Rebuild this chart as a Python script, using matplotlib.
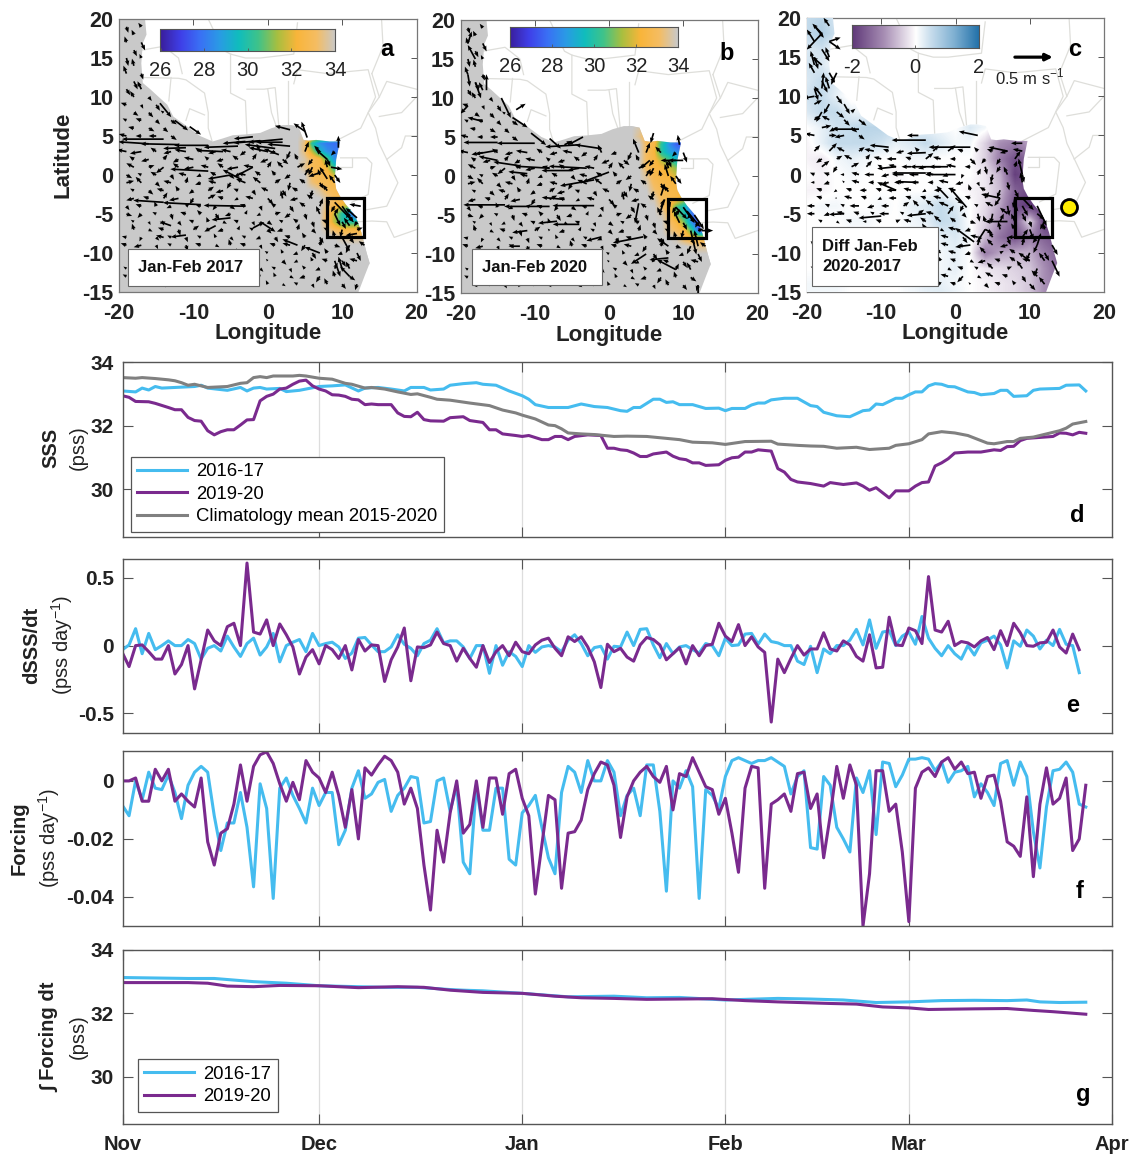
import numpy as np
import matplotlib
matplotlib.use('Agg')
import matplotlib.pyplot as plt
from matplotlib.colors import LinearSegmentedColormap
from matplotlib.patches import Polygon, Rectangle
from matplotlib.path import Path

plt.rcParams['font.family'] = ['Liberation Sans', 'DejaVu Sans']
plt.rcParams['mathtext.fontset'] = 'custom'
plt.rcParams['mathtext.rm'] = 'Liberation Sans'
plt.rcParams['mathtext.bf'] = 'Liberation Sans:bold'
plt.rcParams['axes.unicode_minus'] = False

W, H = 1131, 1155
C_BLUE = '#45bcef'
C_PURPLE = '#7a2a8e'
C_GRAY = '#808080'
C_AXIS = '#555555'

month_pos = [0, 30, 61, 92, 120, 151]
month_names = ['Nov', 'Dec', 'Jan', 'Feb', 'Mar', 'Apr']

sss_blue_days = [0,2,3,4,5,6,8,10,11,12,13,16,18,19,20,21,22,24,25,27,30,32,34,36,37,39,41,43,44,46,47,49,50,52,54,55,57,59,61,62,63,65,68,
                 70,72,74,76,77,78,79,81,82,83,84,85,87,89,91,92,93,95,96,97,98,99,101,103,105,106,107,109,111,113,114,115,116,118,119,120,121,122,123,124,125,126,127,129,130,131,133,134,135,136,138,139,140,143,144,146,147]
sss_blue = [33.09,33.06,33.18,33.12,33.23,33.18,33.2,33.22,33.23,33.27,33.18,33.11,33.2,33.09,33.18,33.2,33.15,33.17,33.07,33.11,33.23,33.25,33.28,33.09,33.18,33.2,33.15,33.09,33.2,33.2,33.12,33.15,33.27,33.32,33.35,33.3,33.27,33.09,32.94,32.83,32.66,32.57,32.57,
            32.68,32.6,32.57,32.47,32.45,32.57,32.57,32.83,32.83,32.73,32.75,32.66,32.66,32.54,32.55,32.47,32.54,32.54,32.65,32.71,32.71,32.81,32.86,32.86,32.63,32.6,32.42,32.31,32.28,32.47,32.49,32.68,32.66,32.86,32.86,32.97,33.06,33.06,33.25,33.32,33.3,33.23,33.22,33.06,33.04,32.97,33.01,33.11,33.11,32.92,32.94,33.11,33.15,33.17,33.27,33.28,33.09]
sss_purple_days = [0,1,2,4,5,7,8,9,10,11,12,13,14,15,16,17,18,19,20,21,22,23,24,25,26,27,28,29,30,31,32,33,34,35,36,37,38,39,40,41,42,43,44,45,46,47,49,50,52,53,55,56,57,58,60,61,62,64,65,66,67,68,
                   69,71,73,74,75,76,77,78,79,80,81,83,84,85,86,87,88,89,91,92,93,94,95,96,97,99,100,101,102,103,105,107,108,109,110,112,113,114,115,117,118,120,121,122,123,124,125,126,127,129,131,133,134,135,136,137,138,142,143,144,145,146,147]
sss_purple = [32.94,32.89,32.76,32.75,32.7,32.57,32.5,32.5,32.26,32.16,32.14,31.84,31.71,31.81,31.87,31.87,32.02,32.18,32.19,32.78,32.92,32.99,33.15,33.18,33.3,33.4,33.43,33.25,33.15,33.09,32.97,32.96,32.92,32.83,32.81,32.66,32.68,32.66,32.66,32.66,32.4,32.29,32.28,32.42,32.19,32.15,32.14,32.25,32.28,32.16,32.1,31.87,31.87,31.74,31.69,31.66,31.69,31.56,31.56,31.66,31.66,31.56,
              31.66,31.71,31.69,31.29,31.29,31.24,31.22,31.14,31.03,31.03,31.11,31.17,31.04,30.96,30.93,30.83,30.83,30.75,30.77,30.91,30.99,31.01,31.17,31.17,31.24,31.2,30.65,30.54,30.31,30.23,30.18,30.1,30.21,30.18,30.15,30.2,30.1,29.97,30.05,29.73,29.95,29.95,30.1,30.21,30.23,30.73,30.83,30.96,31.14,31.17,31.17,31.24,31.22,31.34,31.35,31.53,31.6,31.66,31.77,31.76,31.71,31.79,31.76]
sss_clim_days = [0,2,3,5,7,8,9,10,11,12,13,16,18,19,20,21,22,23,26,27,28,30,32,34,35,37,38,40,42,44,45,47,48,50,53,56,58,60,61,63,65,66,67,68,
                 70,72,75,77,80,83,85,87,90,92,95,99,100,103,105,107,109,112,114,117,118,120,122,123,125,127,129,131,132,133,135,136,137,139,141,143,144,145,147]
sss_clim = [33.51,33.49,33.51,33.48,33.44,33.41,33.35,33.27,33.3,33.25,33.2,33.23,33.33,33.35,33.51,33.54,33.51,33.56,33.56,33.58,33.56,33.49,33.46,33.33,33.3,33.18,33.2,33.15,33.06,32.98,33.0,32.89,32.83,32.8,32.71,32.63,32.49,32.4,32.33,32.21,32.02,32.0,31.9,31.77,
            31.74,31.72,31.66,31.67,31.66,31.6,31.56,31.48,31.46,31.41,31.5,31.51,31.42,31.38,31.36,31.35,31.29,31.32,31.25,31.29,31.38,31.43,31.56,31.74,31.81,31.77,31.69,31.53,31.45,31.43,31.5,31.5,31.6,31.64,31.74,31.84,31.92,32.05,32.13]

# panel e, daily
dsss_blue = [-0.03,0.005,0.125,-0.06,0.09,-0.03,0,0.035,0,0,0.045,0.015,-0.10,-0.02,0,-0.04,0.07,-0.01,-0.08,0.015,0.055,-0.07,-0.01,0.09,-0.12,0,0.025,0.045,-0.045,0.09,0,0.015,0.025,-0.01,-0.095,-0.055,0.055,0.06,0.005,-0.045,-0.045,-0.01,0.08,0.01,-0.02,-0.075,0.015,0.04,0.125,0.02,0.035,0.035,-0.01,-0.095,0,0,-0.205,0,-0.145,-0.045,-0.08,-0.155,0,-0.05,-0.01,0,-0.01,-0.045,
             0.04,0.08,0.015,-0.075,-0.015,-0.005,-0.10,-0.005,-0.01,0.10,0,0.12,0.125,0.005,-0.09,0.015,-0.06,-0.01,0,-0.03,-0.055,0.015,0,-0.075,0.055,0,0.005,0.085,0.09,0.01,0.085,0.03,0.02,0,0,-0.115,-0.14,-0.005,-0.20,-0.025,-0.06,0,0,0.04,0.12,0.005,0.19,-0.02,0.10,0.11,0,0.07,0.10,0.01,0.215,0.055,-0.02,-0.075,0,-0.06,-0.10,0,-0.07,0.02,0.04,0.07,0.005,-0.165,0.035,-0.005,0.115,0.07,-0.025,0.04,0,0.12,0.01,0,-0.20]
dsss_purple = [-0.055,-0.155,0,0.005,-0.045,-0.10,-0.10,0,-0.21,-0.14,0,-0.32,-0.105,0.115,0.035,0,0.14,0.165,0,0.61,0.10,0.085,0.19,0,0.16,0.08,-0.01,-0.21,-0.085,-0.03,-0.135,0,-0.03,-0.095,0,-0.18,0.045,-0.04,0.005,0,-0.265,-0.105,-0.01,0.13,-0.26,-0.01,-0.015,0.005,0.10,0.015,0,-0.115,-0.02,-0.095,-0.16,0,-0.125,-0.045,0,-0.075,0.025,-0.045,-0.06,0.005,0.04,0.055,-0.02,-0.075,
               0.065,0.03,0.065,-0.01,-0.12,-0.31,0.01,-0.045,-0.02,-0.085,-0.115,0.005,0.06,0.045,0.005,-0.105,-0.06,-0.015,-0.135,0,-0.075,0,0.01,0.165,0.07,0.03,0.155,0,0.065,-0.01,-0.05,-0.565,-0.10,-0.20,-0.095,0,-0.07,-0.025,-0.025,0.095,-0.025,-0.04,0.035,0.005,-0.08,-0.115,0.08,-0.165,-0.16,0.21,0.005,0,0.13,0.11,0.015,0.51,0.115,0.10,0.18,0,0.03,0.02,-0.01,0.035,0.06,-0.03,0.11,0,0.165,0.095,0,-0.005,0.02,0.025,0.115,-0.01,-0.055,0.085,-0.03]

# panel f, daily
forcing_blue = [-0.0085,-0.012,0,-0.0065,0.003,-0.0025,-0.003,0.002,-0.004,-0.013,-0.0015,0.003,0.005,0.003,-0.012,-0.024,-0.0145,-0.0145,-0.004,-0.016,-0.0365,-0.001,-0.0095,-0.0405,-0.0025,0.001,-0.005,-0.0095,-0.0145,-0.0025,-0.0085,-0.004,-0.004,-0.022,-0.017,-0.0025,0.0035,-0.006,-0.0045,-0.0005,0.0005,-0.0105,-0.005,-0.0025,0.0015,0.001,-0.0145,-0.014,0,0.001,-0.0105,-0.0015,-0.028,-0.032,-0.0015,-0.017,-0.017,-0.0025,-0.0025,-0.027,-0.029,-0.011,-0.0085,-0.005,-0.016,-0.0265,-0.032,-0.004,
                0.005,0.003,-0.004,0.007,0,0,0.007,0.003,-0.012,-0.005,-0.0025,-0.012,0.0055,0.0055,-0.0105,-0.038,0,-0.0025,0.0035,-0.002,-0.0405,-0.003,-0.005,-0.0095,0.0015,0.007,0.008,0.007,0.006,0.007,0.007,0.008,0.0065,0.005,-0.0045,0.0015,0.0035,-0.023,-0.0235,0.0015,-0.0015,-0.016,-0.020,-0.0245,0.001,-0.004,0.0035,-0.0185,0.0065,0.006,-0.002,0.002,0.0075,0.0075,0.008,0.0075,0.0035,0.0065,-0.0005,0.003,0.0035,0.005,-0.0055,-0.001,-0.004,-0.0085,0.006,0.007,-0.0015,0.0065,0.0015,-0.0175,-0.030,-0.009,0.0035,0.004,0.0065,0.003,-0.008,-0.009]
forcing_purple = [0,0,0.001,-0.007,-0.007,0.004,0,0.004,-0.007,-0.0045,-0.007,-0.009,0.001,-0.021,-0.029,-0.018,-0.0165,-0.008,0.0055,-0.007,0.005,0.009,0.010,0.006,-0.001,-0.007,-0.0005,-0.0065,0.007,0.003,0.001,-0.004,0.003,-0.005,-0.016,-0.003,-0.020,0.0045,0.002,0.0055,0.0085,0.007,0.003,-0.008,-0.0025,-0.0095,-0.029,-0.0445,-0.017,-0.028,-0.011,0,-0.018,-0.015,0,-0.016,0.001,0.001,-0.0115,0.0025,0.004,-0.006,-0.012,-0.039,-0.022,-0.005,-0.0065,-0.037,
                  -0.018,-0.0175,-0.0135,-0.003,0.0025,0.0065,0.0055,-0.0015,-0.0195,-0.0055,0,0.003,0.005,0.0015,-0.0005,0.005,-0.010,0.0025,0.0015,0.008,0.003,-0.002,-0.003,-0.0115,-0.006,-0.018,-0.0315,-0.0025,0.005,0.0045,-0.037,-0.008,-0.0065,-0.0045,-0.0105,0.0025,0.003,-0.0095,-0.0045,-0.0265,-0.012,0.005,-0.006,0.0055,-0.0015,-0.050,-0.032,0.0035,0.0035,-0.0105,-0.008,-0.0245,-0.0485,-0.0025,0.003,0.0045,0.0015,0.0065,0.008,0.004,0.0065,0.0025,0.003,-0.006,0.0015,0.002,-0.007,-0.021,-0.0225,-0.026,-0.0055,-0.033,-0.008,0.0045,-0.008,-0.006,0.001,-0.024,-0.020,-0.0015]

# panel g
int_blue_days = [0,10,14,20,25,30,40,45,50,52,55,61,68,75,80,85,92,100,105,110,115,120,125,130,135,138,140,143,147]
int_blue = [33.13,33.1,33.1,33.0,32.95,32.87,32.82,32.82,32.75,32.73,32.71,32.63,32.52,32.54,32.49,32.5,32.42,32.47,32.45,32.42,32.34,32.36,32.4,32.41,32.4,32.42,32.36,32.34,32.35]
int_purple_days = [0,10,13,16,20,24,30,36,42,46,50,55,61,66,70,75,80,90,95,100,108,112,116,120,123,130,135,139,142,147]
int_purple = [32.97,32.97,32.95,32.86,32.84,32.88,32.87,32.81,32.84,32.82,32.73,32.66,32.63,32.54,32.49,32.47,32.44,32.46,32.4,32.36,32.31,32.29,32.2,32.17,32.12,32.14,32.15,32.09,32.05,31.97]

# ocean edge of the maps, lon / lat
coast_lon = [-16.5,-16.3,-16.8,-17,-16.8,-15.8,-15,-13.5,-12.7,-10.8,-9.1,-7.4,-6,-4.7,-3,-1,0.5,2,3,4.1,4.8,5.5,6.5,8.3,9.7,9.2,9,9.2,9.7,10.5,11.5,12.1,12.6,13.3,13.7,13,12.2,-20,-20]
coast_lat = [20,18,16.9,14.3,11.8,11,10.3,9,7.5,6.2,5,4.3,4.7,5.1,5.2,5.4,6,6.4,6.4,6.2,4.5,4.4,4.5,4.3,4.3,2,-0.6,-1.8,-2.7,-3.8,-4.9,-6,-7.4,-10,-11.3,-13,-15,-15,20]

borders = [
    [(-16.8,12.5),(-12,12.4),(-11,12.2),(-8.5,10.5),(-8,8),(-8,6),(-7.5,4.4)],
    [(-13,12.5),(-13.3,9.5)],
    [(-11,7),(-10.5,8.5),(-8.5,7.7)],
    [(-17,16),(-14,16.5),(-12,15),(-11.5,13)],
    [(-8,20),(-6,16),(-5,15.5),(-3,15),(-1,15),(3.5,15.5),(4,19.5)],
    [(-5,15.5),(-5,10.5),(-3,9.5),(-2.8,5.1)],
    [(-2.8,11),(-0.5,11),(1,11.2),(1.5,6.2)],
    [(0,11),(0.5,8),(1.2,6.1)],
    [(2.7,12),(2.7,6.4)],
    [(3.5,11.7),(4,13.5),(8,13),(13.5,13.5),(14.5,10),(12.5,6),(9,4.3)],
    [(14,13),(15,10),(13.5,8),(14.5,6),(15,4),(16,2)],
    [(15.3,20),(15.5,16.5),(14,13)],
    [(9.8,2.2),(13.3,2.2),(14,1.5),(13.5,-2.5),(11.3,-3.5)],
    [(9.7,1),(11.3,1),(11.3,2.2)],
    [(16,2),(18,3.5),(18.5,5),(20,5)],
    [(16,2),(17.5,-1),(16,-4),(13,-4.5)],
    [(12,-6),(14,-5.9),(16,-6),(17,-8),(20,-7)],
    [(20,10),(18,8),(15,7.5)],
    [(20,11),(16,12),(15,10)],
]

# SSS near the Congo mouth, 1 deg, lat 7 to -11, lon 3 to 14 (34 everywhere else)
sss_lon = [3,4,5,6,7,8,9,10,11,12,13,14]
sss_lat = [7,6,5,4,3,2,1,0,-1,-2,-3,-4,-5,-6,-7,-8,-9,-10,-11]
sss_a = [
    [34,34,34,34,34,34,34,34,34,34,34,34],
    [34,34,33.9,33.3,34,34,34,34,34,34,34,34],
    [34,34,33.8,33,32.5,32,31,30,30,30,34,34],
    [34,34,33.3,30,28.5,28,27.8,28,28,28,28,34],
    [34,34,33.3,31.5,29.5,28.5,28,28,28.2,28,28,34],
    [34,34,33.7,33,32.5,30.5,28.5,28.5,28.5,28,28,34],
    [34,34,33.5,32.8,32.7,32,30,30,30,29,29,34],
    [34,34,34,33,32.8,32.7,31.5,31.5,30.5,30,30,34],
    [34,34,34,33.3,32.9,32.8,32.5,32.3,31.5,31,31,34],
    [34,34,34,34,33.6,33,32.8,32.6,32.3,32,32,34],
    [34,34,34,34,34,33.5,33,32.8,32.6,32.5,32.5,34],
    [34,34,34,34,34,33.3,32.6,32,31,30,30,34],
    [34,34,34,34,34,33,31.5,30,28.5,27,27,34],
    [34,34,34,34,34,33,31.5,30,30,30,30,34],
    [34,34,34,34,34,33.7,33,32.5,32.5,32.5,32,34],
    [34,34,34,34,34,34,34,33.7,33.5,33.5,33.5,34],
    [34,34,34,34,34,34,34,34,34,34,34,34],
    [34,34,34,34,34,34,34,34,34,34,34,34],
    [34,34,34,34,34,34,34,34,34,34,34,34],
]
sss_b = [
    [34,34,34,34,34,34,34,34,34,34,34,34],
    [34,33.7,33,33,33,34,34,34,34,34,34,34],
    [34,33.5,32.8,32.8,31,30,29,28,28,28,34,34],
    [34,34,33,32.5,30,28.5,27.5,27.5,27,27,27,34],
    [34,34,33,32.3,30,29,28.5,28,27.5,27.5,27.5,34],
    [34,34,33,32.5,31.5,30.5,29.5,28.5,28,28,28,34],
    [34,34,33,32.5,32.3,31.8,31,30,29,28.5,28.5,34],
    [34,34,33.5,32.7,32.5,32.2,31.7,30.5,30,29.5,29.5,34],
    [34,34,33.8,33,32.6,32.5,32.3,31.5,30.5,30,30,34],
    [34,34,34,33.3,32.8,32.6,32.5,32,31,30.5,30.5,34],
    [34,34,34,33.8,33,32.7,32.5,31.5,30,29.5,29.5,34],
    [34,34,34,34,33.3,32.7,30.5,29.5,28,27,27,34],
    [34,34,34,34,33.8,33,31,30,28,27,27,34],
    [34,34,34,34,34,33.3,32.5,31,28.5,27,27,34],
    [34,34,34,34,34,33.5,33,32.5,30.5,27.5,27.5,34],
    [34,34,34,34,34,34,33.8,33,32.5,32.5,32.5,34],
    [34,34,34,34,34,34,34,34,33.8,33.5,33.5,34],
    [34,34,34,34,34,34,34,34,34,34,34,34],
    [34,34,34,34,34,34,34,34,34,34,34,34],
]

# SSS difference 2020-2017, 2 deg, lat 20 to -16, lon -20 to 14
diff_lon = [-20,-18,-16,-14,-12,-10,-8,-6,-4,-2,0,2,4,6,8,10,12,14]
diff_lat = [20,18,16,14,12,10,8,6,4,2,0,-2,-4,-6,-8,-10,-12,-14,-16]
diff_c = [
    [0.5,0.6,0.3,0,0,0,0,0,0,0,0,0,0,0,0,0,0,0],
    [0.5,0.7,0.4,0,0,0,0,0,0,0,0,0,0,0,0,0,0,0],
    [0.3,0.4,0.1,0,0,0,0,0,0,0,0,0,0,0,0,0,0,0],
    [0.4,0.3,0,0,0,0,0,0,0,0,0,0,0,0,0,0,0,0],
    [0.3,0.5,0.3,0,0,0,0,0,0,0,0,0,0,0,0,0,0,0],
    [0.4,0.5,0.2,-0.1,0,0,0,0,0,0,0,0,0,0,0,0,0,0],
    [0.3,0.5,0.5,0.2,0.1,0,0,0,0,0,0,0,0,0,0,0,0,0],
    [0,0.2,0.4,0.5,0.6,0.6,0.5,0.4,0.2,0.1,0,0.3,0.1,-0.4,-0.8,-0.8,0,0],
    [-0.1,0.2,0.5,0.5,0.5,0.4,0.2,0.3,0.5,0.3,0.1,0.1,-0.4,-1,-1.2,-0.8,0,0],
    [-0.1,-0.2,0.1,0.2,0.1,0,0,0.1,0.1,0,0,0,-0.4,-1.2,-1.7,-1.4,0,0],
    [0,-0.1,0,0.1,0,0,-0.1,0,0,0,0,0,-0.2,-0.7,-1.9,-1.6,0,0],
    [-0.1,-0.1,0,0,0,0,0,0,0,0.1,0,-0.1,-0.2,-0.6,-1.5,-1.8,-1,0],
    [0,0.1,0.1,0,0,0.1,0,0.2,0.3,0.5,0.3,0,-0.3,-0.8,-1.7,-2,-1.9,0],
    [0,0,0,0.1,0.1,0,0,0.1,0.2,0.5,0.4,0,-0.4,-1,-1.5,-0.3,-2,-1.8],
    [0,0,0,0,0,0,0,0.1,0.1,0.2,0.3,0.1,-0.6,-1.3,-1.7,-1.2,-1.5,-1.8],
    [0,0,0,0,0,0,0,0,0.1,0.1,0.2,0,-1.2,-0.8,-0.7,-0.7,-1.2,-1.5],
    [0,0,0,0,0,0,0,0,0,0.1,0.2,0,-0.2,-0.3,-0.4,-0.5,-1,-1.5],
    [0.1,0.1,0.1,0,0,0,0,0.1,0.2,0.2,0.1,0,-0.1,-0.2,-0.3,-0.5,-1,-1.2],
    [0.1,0.1,0.1,0,0,0,0,0.1,0.2,0.3,0.2,0,-0.1,-0.2,-0.3,-0.5,-1,-1.2],
]

# background currents in cm/s: north block lon -19..-13, lat 19..5; south block lon -19..13, lat 3..-15
north_lon = [-19,-17,-15,-13]
north_lat = [19,17,15,13,11,9,7,5]
south_lon = [-19,-17,-15,-13,-11,-9,-7,-5,-3,-1,1,3,5,7,9,11,13]
south_lat = [3,1,-1,-3,-5,-7,-9,-11,-13,-15]
north_u_ab = [[5,-8,5,0],[-5,10,0,0],[5,-5,0,0],[-8,5,0,0],[10,-10,5,0],[-15,5,10,10],[-10,-15,10,15],[-20,-15,-20,15]]
north_v_ab = [[-15,10,0,0],[15,-20,0,0],[-20,10,0,0],[20,-15,0,0],[-15,20,-15,0],[5,-10,-15,-10],[5,5,-10,-10],[5,0,0,-10]]
south_u_ab = [
    [-25,-30,-15,-20,-30,-15,-20,-25,-15,-10,-15,-10,10,-15,-10,-20,0],
    [-20,15,-20,-15,-25,-20,-15,-30,-25,10,-15,20,-10,-5,20,-10,0],
    [20,-15,10,-20,5,-15,-20,-10,-25,-20,15,-5,-15,10,-15,-10,0],
    [-20,-15,10,-25,-10,20,-15,-10,-20,15,-5,-20,-15,5,15,-25,0],
    [15,-10,-10,5,-15,-10,10,-15,5,-10,15,-15,5,-10,10,-10,-20],
    [-5,10,-15,5,15,-5,-15,5,-10,10,-15,5,10,-10,-5,15,-10],
    [-15,-20,5,-10,5,-15,10,-5,-15,5,-15,-20,-10,5,15,-10,-15],
    [5,-5,-10,10,-5,5,-10,5,-15,-5,10,-10,-5,-15,10,-20,-5],
    [-10,5,-5,-5,10,-10,5,-10,5,-10,-5,10,-15,-10,-5,15,-10],
    [10,-15,5,-5,-10,5,-10,5,-5,10,-5,-5,10,-10,5,-5,0],
]
south_v_ab = [
    [5,-5,10,-5,5,10,-5,5,-10,20,-5,-20,25,15,-10,5,0],
    [10,5,-15,10,-5,5,10,-5,5,15,15,10,-20,20,-5,15,0],
    [5,15,-10,5,15,-5,5,-15,10,15,10,-20,10,-15,20,5,0],
    [-5,5,15,-5,-15,10,5,-5,5,-15,20,-5,10,-20,-15,5,0],
    [-5,-10,5,-15,5,10,-15,-5,10,-5,5,-10,-15,20,15,-10,5],
    [15,-5,5,-15,10,5,-5,10,5,-10,-5,15,-10,5,-20,5,-15],
    [5,-5,-10,5,-15,5,-5,15,5,-10,5,5,-15,15,-5,-20,10],
    [-10,5,5,-5,5,-10,5,-5,-10,5,-10,-5,10,5,-15,5,20],
    [5,-10,5,10,-5,5,-5,5,-10,5,10,-5,-5,-15,15,-10,-15],
    [-5,5,-5,10,5,-5,5,-5,10,-5,5,10,-5,5,-10,15,0],
]
north_u_c = [[25,-15,10,0],[-20,30,0,0],[10,-10,0,0],[-15,15,0,0],[10,-10,10,0],[20,-15,15,10],[15,-20,15,20],[-25,20,-25,15]]
north_v_c = [[-30,20,0,0],[30,-20,0,0],[-30,25,0,0],[25,-25,0,0],[-30,30,-20,0],[10,-25,-25,-15],[10,10,-15,-15],[5,0,-5,-10]]
south_u_c = [
    [15,20,-20,15,-25,-15,-20,-10,15,20,-15,-10,-15,-20,-25,-10,0],
    [20,-10,20,15,-10,-20,-25,-20,-30,-25,-15,5,-10,5,-5,-5,0],
    [-10,-15,-5,-20,-15,-20,-25,-20,-15,-25,-20,5,-10,5,-5,10,0],
    [-15,-5,-20,-15,-10,-20,-15,-15,-20,20,-15,10,-15,-5,15,-15,0],
    [-20,-15,-20,-15,-10,-25,-10,15,-20,15,10,5,-5,-20,10,20,-10],
    [10,-15,5,-15,10,-15,5,-10,10,-20,-15,20,-5,-10,10,-5,10],
    [-10,5,-15,10,-10,-5,-15,-5,10,-20,-15,5,-15,-20,5,-10,15],
    [5,-10,-5,10,-5,-15,5,-15,-5,-15,10,-20,-15,-15,-20,-15,15],
    [-5,-10,-15,5,-10,5,10,-15,-10,-20,-15,10,-20,-15,10,-15,10],
    [-15,10,-10,5,-15,-10,10,-5,-15,-10,15,-5,-15,20,-10,-15,0],
]
south_v_c = [
    [15,20,10,10,5,5,-5,10,15,15,5,10,5,-5,5,-15,0],
    [15,-15,10,15,5,5,0,-5,0,5,0,-20,-15,15,-20,20,0],
    [0,-5,5,5,0,-5,0,0,0,5,-5,-10,-5,-20,25,-5,0],
    [5,0,5,5,-5,0,5,5,5,-15,5,15,-20,-25,-20,10,0],
    [0,-5,5,5,5,0,5,10,5,20,-10,-20,-25,15,-20,-15,0],
    [5,5,-5,0,5,-5,5,15,-5,5,-5,-10,20,15,-25,15,-5],
    [10,-5,5,-5,10,5,5,5,15,5,-5,20,15,-5,20,-20,-25],
    [-5,5,10,5,5,0,5,5,10,5,-5,-5,5,10,5,20,-20],
    [5,5,0,5,10,-5,-5,5,5,5,-15,-5,10,5,-15,15,-15],
    [5,-5,5,-5,5,5,-5,10,5,5,-5,-10,5,-10,20,5,0],
]

# second set of cells between the first: lon -18..-14, lat 18..6; lon -18..14, lat 2..-14
north2_lon = [-18,-16,-14]
north2_lat = [18,16,14,12,10,8,6]
south2_lon = [-18,-16,-14,-12,-10,-8,-6,-4,-2,0,2,4,6,8,10,12,14]
south2_lat = [2,0,-2,-4,-6,-8,-10,-12,-14]
north2_u_ab = [[-6,0,0],[8,0,0],[-5,0,0],[10,0,0],[-10,8,0],[12,12,-8],[-15,15,12]]
north2_v_ab = [[12,0,0],[-15,0,0],[18,0,0],[-20,0,0],[15,-10,0],[-8,-12,5],[3,-8,-10]]
south2_u_ab = [
    [-12,-20,10,-15,-25,-10,-18,-15,10,-20,15,-8,-12,8,-15,0,0],
    [15,-10,-15,8,-20,-12,-15,10,-20,-15,-10,-15,12,-5,15,0,0],
    [-10,12,-18,-8,-12,15,-20,-12,8,-18,10,-15,-5,-12,10,-10,0],
    [8,-15,-5,-12,10,-15,-8,12,-15,5,-12,10,-15,8,-10,15,0],
    [-8,5,-10,8,-12,-5,10,-12,5,12,-10,-12,5,-15,10,-8,0],
    [-12,-5,8,-10,5,-10,-5,8,-10,-12,8,-15,-8,10,-5,12,0],
    [5,-10,-5,8,-8,5,-10,-5,10,-8,-5,-12,10,-8,-12,10,-15],
    [-8,5,-10,-5,5,-8,5,-10,-5,8,-10,5,-8,-12,8,-10,0],
    [6,-8,5,-5,-8,5,-5,8,-8,-5,8,-10,5,-8,10,-5,0],
]
south2_v_ab = [
    [8,-5,12,-8,5,8,-5,10,15,-8,-12,15,-15,-18,10,0,0],
    [-8,5,8,-12,5,-5,8,-10,5,10,12,-10,18,15,-20,0,0],
    [5,-10,5,12,-8,10,-5,5,-12,8,-15,8,-18,15,12,-15,0],
    [-10,5,12,-5,8,5,-10,-8,5,-12,8,-15,10,20,-15,-10,0],
    [5,-8,-5,-10,5,12,-5,5,-10,-8,5,8,-15,5,-18,-12,0],
    [3,-10,-8,5,-12,5,10,-8,5,-5,-12,5,12,-15,18,-15,0],
    [-8,5,10,-5,5,-8,5,12,-5,5,10,-5,-15,12,-5,-20,15],
    [5,-5,5,8,-10,5,-8,5,8,-8,5,-10,8,-5,15,18,0],
    [-5,5,-8,-5,5,-5,10,-5,5,10,-5,5,-10,15,-12,-15,0],
]
north2_u_c = [[-25,0,0],[20,0,0],[-25,0,0],[15,0,0],[-20,15,0],[-15,20,10],[25,-20,15]]
north2_v_c = [[25,0,0],[-30,0,0],[20,0,0],[-30,0,0],[25,-20,0],[-25,-15,8],[5,-10,-12]]
south2_u_c = [
    [-15,15,-20,10,-20,-25,-15,20,-20,-15,15,-10,-10,15,-12,0,0],
    [-12,-15,-10,-20,-25,-20,-30,-25,-20,-15,-5,8,-5,-10,5,0,0],
    [-15,-8,-15,-18,-15,-25,-20,-10,-18,-20,-5,-15,-8,10,-5,15,0],
    [-20,-12,-10,-25,-18,-20,15,-15,-20,-25,-8,-10,-20,5,15,-10,0],
    [-10,8,-15,-10,-15,12,-20,-15,-18,-15,15,-5,10,-10,5,-12,0],
    [5,-12,10,-8,-15,-10,-5,8,-15,-20,12,-20,-10,8,15,-12,0],
    [-8,10,-5,-12,5,-10,-15,-8,-15,-20,-15,-15,10,-15,-10,12,15],
    [-10,-5,8,-12,-10,5,-15,-10,-5,10,-15,-10,-15,12,-15,-8,0],
    [8,-12,-5,8,-15,-5,-8,12,-10,-15,-5,10,-15,-8,15,-15,0],
]
south2_v_c = [
    [-10,8,10,12,5,0,5,15,5,0,-15,-12,-15,20,-20,0,0],
    [5,5,0,5,0,-5,0,0,5,-5,-10,15,-20,20,-20,0,0],
    [5,-5,5,0,5,0,5,-5,0,5,15,8,-20,-20,25,10,0],
    [0,5,5,0,-5,0,10,15,15,10,-15,5,10,-25,-25,15,0],
    [5,-5,5,0,5,5,5,10,15,10,-5,15,20,20,-15,-20,0],
    [5,5,-5,5,0,5,8,-5,5,5,-15,5,15,-20,20,-15,0],
    [-5,5,5,-5,5,0,0,5,10,5,-5,15,5,10,-20,-20,-25],
    [5,5,-5,5,5,5,5,5,8,-5,5,5,15,5,20,-20,0],
    [-5,5,5,-5,5,-5,5,-5,8,5,5,-10,5,10,-15,18,0],
]

# the long streaks, cm/s
streak_a_lon = [-14,-16,-12,-8,-4,-11,-6,-1,2,1,3,0,2,-2,1.5,-3,-14.5,-12.5,-10.5,-8,-5,-3.5,-2,-14,-9,-3,-5,-7,-13,-1,-11,5,3,5.3,8,9.5,7,8,8.5,9,10,12,11,9,12,13,12.5,4,7,9,11,10,10,-2,-14]
streak_a_lat = [4.6,4,3.9,3.8,3.7,3.5,3,4.4,4.6,3.4,3.7,3,4.2,4.9,2.6,4.3,9.2,7,6.2,0.5,0,-0.6,1,-3.5,-3.8,-4,-5.5,-6.5,-6.5,-6,-7.7,5.6,5.8,4.8,2,3.5,0.3,-0.5,1,-3.5,-4,-5.5,-6.5,-5,-7.5,-8,-4,-9,-10,-11,-13,-8,-12,-6.8,-8]
streak_a_u = [-110,-80,-100,-90,-90,-60,-70,-70,-90,-80,-60,-50,-70,-50,-40,-60,30,35,30,-100,-60,-50,-50,-80,-100,-110,-50,-30,-30,40,-40,-30,-40,-15,-30,0,-30,-20,30,50,30,-30,-15,15,-30,-45,-30,-40,-40,15,-25,20,-10,30,-20]
streak_a_v = [0,5,2,0,-3,-2,3,-6,-8,10,5,10,0,-5,15,-5,-35,-25,-20,5,-10,25,-25,5,5,2,-5,-15,10,-25,-5,20,10,40,25,30,-10,30,-5,-50,-40,25,20,-30,-5,0,5,15,15,-40,25,-35,30,15,5]
streak_b_lon = [-15,-10,-4,-1,-15,-12,-8,-3,-11,-5,-2,0,-15,-14,-8,-2,-6,-4,-7,-11,-1,4.6,8,-12,-14.5,-13,-10.5,-8,-3.5,-6,-19,-18,-16.5,-17,-12.5,-19,-18,-19,9,10,10.5,11.5,11,12.5,9.5,6,4,5.5,8,7,7.5,9,10,9.5,10,4,5,9,8,12,12]
streak_b_lat = [4.3,4.2,4,3.5,3.3,1.3,1,1,0.3,0.7,-0.5,0.5,2,-3.7,-3.9,-3.8,-3,-6.2,-5.8,-7,-7.8,-7.8,-9,-9,10,7.5,5.5,4.8,5,4,17,15,11,7,8.5,9,12,13,-4,-4,-4.5,-5,-7,-7,-6,5.5,3,2,0,-2.5,-3,2,2,4,3,-3.5,-10,-12,-10.5,-9,-14]
streak_b_u = [-90,-100,-90,-70,-60,-70,-90,-100,-50,-80,-90,-70,-50,-110,-120,-110,-60,-70,-50,-40,-40,-80,-30,-30,25,40,40,30,-40,20,10,-20,0,-40,25,-20,15,5,30,30,35,25,15,30,-15,-8,-15,-25,-10,10,-15,-40,-40,-5,10,-10,-40,-50,-50,-10,0]
streak_b_v = [0,0,-5,10,-10,10,5,5,5,0,-15,-25,10,0,0,0,5,0,-5,-5,-10,-15,20,0,-50,-25,-30,-25,-20,10,30,35,40,10,15,-20,-40,-30,-30,-40,-40,-35,-60,0,30,-25,35,-20,30,30,-40,0,0,25,-25,-50,-25,25,-5,40,-40]
streak_c_lon = [-4,-5,2,-4,-9,3,-13,-1,-4,-8,0,-5,-8,1.5,-1,-15,-10,-4,7,2.5,2,4,6,7,9,9,9,11,8,9,11,13,10,-18,-19,-18,-17,-19,-16]
streak_c_lat = [4.4,5,3.5,2.8,3.5,5,5.8,1,0.2,1,0,-1,-2,-4.2,-3,-5,-5.3,-5,-6,-8.6,-9,-7,-3,3,4,0,-3,-4,-6,-8,-9,-11,-11,11,14,18,17,10,13]
streak_c_u = [-90,-30,-110,-50,-50,-50,-70,-100,-90,-50,-80,-60,-50,-45,-30,-40,-60,-50,-60,-50,-40,-20,-50,-50,-30,-10,30,25,5,-40,10,20,-30,5,-10,-40,30,-30,-15]
streak_c_v = [0,0,0,-2,5,10,0,0,0,-5,0,2,20,50,30,-2,-5,-5,0,35,-5,-30,10,10,0,40,-30,-50,40,0,30,-40,20,40,35,-40,10,-5,-30]


def ax_px(left, top, right, bottom):
    return fig.add_axes([left / W, 1 - bottom / H, (right - left) / W, (bottom - top) / H])


def draw_arrows(ax, lon, lat, u, v):
    ax.quiver(lon, lat, u, v, angles='xy', scale_units='xy', scale=19.6, units='dots', width=1.7,
              headwidth=2.6, headlength=3.2, headaxislength=2.9, minlength=0, color='black', zorder=4)


def cells(lats, lons, us, vs, shift):
    xs, ys, uu, vv = [], [], [], []
    for i, la in enumerate(lats):
        for j, lo in enumerate(lons):
            xs.append(lo + shift * (i % 2)); ys.append(la); uu.append(us[i][j]); vv.append(vs[i][j])
    return xs, ys, uu, vv


def draw_currents(ax, fields, st_lon, st_lat, st_u, st_v):
    ocean = Path(np.column_stack([coast_lon, coast_lat]))
    n_u, n_v, s_u, s_v, n2_u, n2_v, s2_u, s2_v = fields
    blocks = [cells(north_lat, north_lon, n_u, n_v, 0), cells(south_lat, south_lon, s_u, s_v, 1),
              cells(north2_lat, north2_lon, n2_u, n2_v, 0), cells(south2_lat, south2_lon, s2_u, s2_v, -1)]
    xs = np.concatenate([b[0] for b in blocks], dtype=float)
    ys = np.concatenate([b[1] for b in blocks], dtype=float)
    us = np.concatenate([b[2] for b in blocks], dtype=float)
    vs = np.concatenate([b[3] for b in blocks], dtype=float)
    keep = ocean.contains_points(np.column_stack([xs, ys]))
    draw_arrows(ax, xs[keep], ys[keep], us[keep], vs[keep])
    draw_arrows(ax, st_lon, st_lat, st_u, st_v)


def draw_map(ax, fill):
    ax.set_facecolor('white')
    for line in borders:
        pts = np.array(line)
        ax.plot(pts[:, 0], pts[:, 1], color='#dededa', lw=0.9, zorder=1)
    ax.add_patch(Polygon(np.column_stack([coast_lon, coast_lat]), closed=True, fc=fill, ec='none', zorder=2))
    ax.add_patch(Rectangle((8, -8), 5, 5, fill=False, ec='black', lw=2.3, zorder=6))
    ax.set_xlim(-20, 20)
    ax.set_ylim(-15, 20)
    ax.set_xticks([-20, -10, 0, 10, 20])
    ax.set_yticks(range(-15, 21, 5))
    ax.tick_params(direction='in', length=4, width=0.7, color=C_AXIS, labelsize=15.5, top=True, right=True)
    ax.tick_params(axis='x', pad=8)
    ax.tick_params(axis='y', pad=4)
    for lab in ax.get_xticklabels() + ax.get_yticklabels():
        lab.set_fontweight('bold')
        lab.set_color('#222222')
    for s in ax.spines.values():
        s.set_color('#777777')
        s.set_linewidth(0.9)


def draw_field(ax, grid, lons, lats, cmap, vmin, vmax):
    im = ax.imshow(grid, extent=[lons[0] - 0.5 * (lons[1] - lons[0]), lons[-1] + 0.5 * (lons[1] - lons[0]),
                                 lats[-1] - 0.5 * (lats[0] - lats[1]), lats[0] + 0.5 * (lats[0] - lats[1])],
                   cmap=cmap, vmin=vmin, vmax=vmax, aspect='auto', interpolation='bilinear', zorder=3)
    clip = Polygon(np.column_stack([coast_lon, coast_lat]), closed=True, transform=ax.transData)
    im.set_clip_path(clip)


def draw_cbar(left, top, right, bottom, cmap, ticks):
    cax = ax_px(left, top, right, bottom)
    cax.imshow(np.linspace(0, 1, 256)[None, :], cmap=cmap, aspect='auto', extent=[ticks[0], ticks[-1], 0, 1], zorder=1)
    cax.set_yticks([])
    cax.set_xticks(ticks)
    cax.tick_params(direction='in', length=2, width=0.6, color=C_AXIS, labelsize=14.5, pad=7, labelcolor='#222222')
    for s in cax.spines.values():
        s.set_color('#555555')
        s.set_linewidth(0.8)
    cax.set_zorder(8)


def map_box(left, top, right, bottom, lines):
    fig.patches.append(Rectangle((left / W, 1 - bottom / H), (right - left) / W, (bottom - top) / H,
                                 transform=fig.transFigure, fc='white', ec='#666666', lw=0.8, zorder=5))
    fig.text((left + 10) / W, 1 - (top + bottom) / 2 / H, lines, fontsize=12, fontweight='bold', va='center',
             ha='left', color='#111111', zorder=6, linespacing=1.35)


def setup_series(ax, ylim, yticks, ylabels, show_months=False):
    for m in month_pos[1:-1]:
        ax.axvline(m, color='#dddddd', lw=0.9, zorder=0)
    ax.set_xlim(0, 151)
    ax.set_ylim(*ylim)
    ax.set_xticks(month_pos[1:-1] if not show_months else month_pos)
    ax.set_xticklabels(month_names if show_months else [''] * 4)
    ax.set_yticks(yticks)
    ax.set_yticklabels(ylabels)
    ax.tick_params(axis='x', direction='in', length=7, width=0.8, color=C_AXIS, top=True, labelsize=14.5, pad=8)
    ax.tick_params(axis='y', direction='in', length=7, width=0.8, color=C_AXIS, right=True, labelsize=15, pad=6)
    for lab in ax.get_xticklabels() + ax.get_yticklabels():
        lab.set_fontweight('bold')
        lab.set_color('#222222')
    for s in ax.spines.values():
        s.set_color(C_AXIS)
        s.set_linewidth(1.0)


def two_line_label(x1, x2, yc, bold_text, plain_text):
    fig.text(x1 / W, 1 - yc / H, bold_text, rotation=90, fontsize=14.5, fontweight='bold', ha='center', va='center', color='#222222')
    fig.text(x2 / W, 1 - yc / H, plain_text, rotation=90, fontsize=14.5, ha='center', va='center', color='#222222')


def panel_letter(x, y, s):
    fig.text(x / W, 1 - y / H, s, fontsize=17, fontweight='bold', ha='center', va='center', color='black', zorder=9)


fig = plt.figure(figsize=(W / 100, H / 100), dpi=100, facecolor='white')

cmap_sss = LinearSegmentedColormap.from_list('sss', ['#3a1f9e', '#3f3fe8', '#3a70f5', '#2a9be5', '#10bdbd', '#3fc38a', '#a8bf40', '#f9b53a', '#f5bd62', '#c9c9c9'])
cmap_diff = LinearSegmentedColormap.from_list('diff', [(0, '#5f3878'), (0.25, '#a78eb4'), (0.46, '#f1ecf3'), (0.5, '#ffffff'),
                                                       (0.62, '#c6dcec'), (0.8, '#7fb0d2'), (1, '#1f6fa8')])

fields_ab = (north_u_ab, north_v_ab, south_u_ab, south_v_ab, north2_u_ab, north2_v_ab, south2_u_ab, south2_v_ab)
fields_c = (north_u_c, north_v_c, south_u_c, south_v_c, north2_u_c, north2_v_c, south2_u_c, south2_v_c)

# top maps
ax_a = ax_px(119, 19, 416.5, 292)
draw_map(ax_a, '#c9c9c9')
draw_field(ax_a, sss_a, sss_lon, sss_lat, cmap_sss, 26, 34)
draw_currents(ax_a, fields_ab, streak_a_lon, streak_a_lat, streak_a_u, streak_a_v)

ax_b = ax_px(460.5, 20, 757.5, 293)
draw_map(ax_b, '#c9c9c9')
draw_field(ax_b, sss_b, sss_lon, sss_lat, cmap_sss, 26, 34)
draw_currents(ax_b, fields_ab, streak_b_lon, streak_b_lat, streak_b_u, streak_b_v)

ax_c = ax_px(807, 18, 1104, 292)
draw_map(ax_c, 'white')
draw_field(ax_c, diff_c, diff_lon, diff_lat, cmap_diff, -2, 2)
draw_currents(ax_c, fields_c, streak_c_lon, streak_c_lat, streak_c_u, streak_c_v)
ax_c.plot([15.3], [-4.2], 'o', ms=11.5, mfc='#ffee00', mec='black', mew=2, zorder=7)
ax_c.annotate('', xy=(13.1, 15), xytext=(8, 15),
              arrowprops=dict(arrowstyle='-|>', color='black', lw=2.3, shrinkA=0, shrinkB=0), zorder=7)
ax_c.text(5.3, 12.5, '0.5 m s$^{-1}$', fontsize=12, va='center', ha='left', color='#222222', zorder=7)

draw_cbar(160.5, 29, 335, 51, cmap_sss, [26, 28, 30, 32, 34])
draw_cbar(510, 27, 678, 47, cmap_sss, [26, 28, 30, 32, 34])
draw_cbar(851.5, 25, 979, 48, cmap_diff, [-2, 0, 2])

map_box(128, 249, 259, 286, 'Jan-Feb 2017')
map_box(472, 249, 602, 285, 'Jan-Feb 2020')
map_box(812, 227, 938, 286, 'Diff Jan-Feb\n2020-2017')

panel_letter(387, 49, 'a')
panel_letter(727, 53, 'b')
panel_letter(1075, 49, 'c')

for xc, yc in [(268, 333), (609, 335), (955, 333)]:
    fig.text(xc / W, 1 - yc / H, 'Longitude', fontsize=16, fontweight='bold', ha='center', va='center', color='#222222')
fig.text(63 / W, 1 - 155 / H, 'Latitude', rotation=90, fontsize=16, fontweight='bold', ha='center', va='center', color='#222222')

# time series
ax_d = ax_px(122.5, 362, 1112, 537)
setup_series(ax_d, (28.5, 34), [30, 32, 34], ['30', '32', '34'])
ax_d.plot(sss_blue_days, sss_blue, color=C_BLUE, lw=2.2, label='2016-17')
ax_d.plot(sss_purple_days, sss_purple, color=C_PURPLE, lw=2.2, label='2019-20')
ax_d.plot(sss_clim_days, sss_clim, color=C_GRAY, lw=2.2, label='Climatology mean 2015-2020')
ax_d.legend(loc='lower left', bbox_to_anchor=(0.0085, 0.03), borderaxespad=0, fancybox=False, framealpha=1, edgecolor=C_AXIS,
            fontsize=13.3, labelspacing=0.3, handlelength=2.7, handletextpad=0.5, borderpad=0.35).get_frame().set_linewidth(0.9)

ax_e = ax_px(122.5, 559, 1112, 733)
setup_series(ax_e, (-0.646, 0.64), [-0.5, 0, 0.5], ['-0.5', '0', '0.5'])
ax_e.plot(range(len(dsss_blue)), dsss_blue, color=C_BLUE, lw=2.2)
ax_e.plot(range(len(dsss_purple)), dsss_purple, color=C_PURPLE, lw=2.2)

ax_f = ax_px(122.5, 751, 1112, 926)
setup_series(ax_f, (-0.05, 0.0103), [-0.04, -0.02, 0], ['-0.04', '-0.02', '0'])
ax_f.plot(range(len(forcing_blue)), forcing_blue, color=C_BLUE, lw=2.2)
ax_f.plot(range(len(forcing_purple)), forcing_purple, color=C_PURPLE, lw=2.2)

ax_g = ax_px(122.5, 950, 1112, 1124)
setup_series(ax_g, (28.5, 34), [30, 32, 34], ['30', '32', '34'], show_months=True)
ax_g.plot(int_blue_days, int_blue, color=C_BLUE, lw=2.2, label='2016-17')
ax_g.plot(int_purple_days, int_purple, color=C_PURPLE, lw=2.2, label='2019-20')
ax_g.legend(loc='lower left', bbox_to_anchor=(0.0155, 0.07), borderaxespad=0, fancybox=False, framealpha=1, edgecolor=C_AXIS,
            fontsize=13.3, labelspacing=0.3, handlelength=2.7, handletextpad=0.5, borderpad=0.35).get_frame().set_linewidth(0.9)

two_line_label(51, 78, 448, 'SSS', '(pss)')
two_line_label(32, 62, 645, 'dSSS/dt', '(pss day$^{-1}$)')
two_line_label(19, 49, 838, 'Forcing', '(pss day$^{-1}$)')
two_line_label(50, 78, 1037, '\u222b Forcing dt', '(pss)')

panel_letter(1077, 516, 'd')
panel_letter(1073, 706, 'e')
panel_letter(1080, 892, 'f')
panel_letter(1083, 1095, 'g')

fig.savefig('out.png', dpi=100, facecolor='white')
